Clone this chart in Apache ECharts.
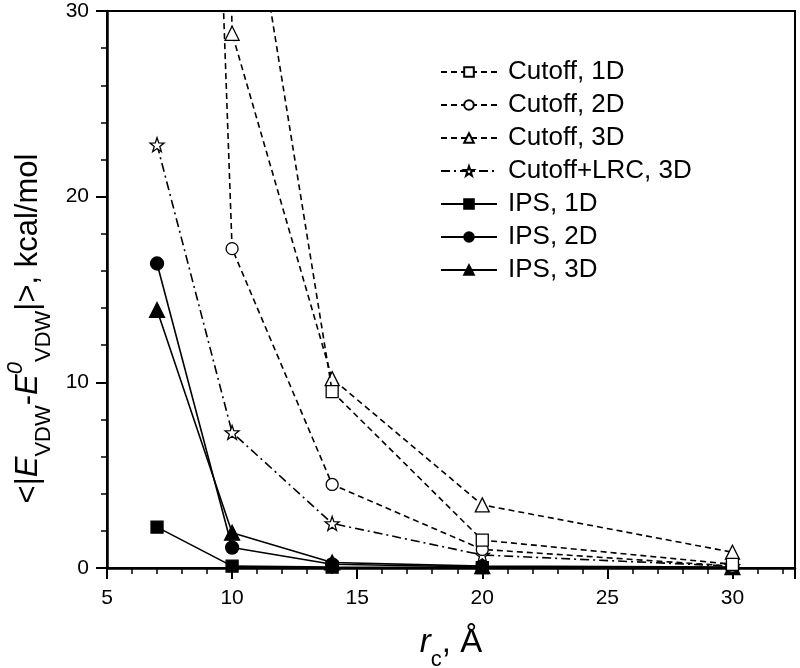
<!DOCTYPE html>
<html>
<head>
<meta charset="utf-8">
<script src="https://cdn.jsdelivr.net/npm/echarts@6/dist/echarts.min.js"></script>
<style>
html,body{margin:0;padding:0;background:#fff;}
#chart{width:800px;height:668px;}
</style>
</head>
<body>
<div id="chart"></div>
<script>
// ---- data ----
var rc = [7, 10, 14, 20, 30];
var cutoff1D = [null, 43, 9.5, 1.5, 0.2];
var cutoff2D = [130, 17.2, 4.5, 1.0, 0.1];
var cutoff3D = [250, 28.8, 10.2, 3.4, 0.85];
var cutoffLRC3D = [22.8, 7.3, 2.4, 0.7, 0.1];
var ips1D = [2.2, 0.1, 0.05, 0.02, 0.01];
var ips2D = [16.4, 1.1, 0.2, 0.05, 0.02];
var ips3D = [13.9, 1.9, 0.3, 0.1, 0.05];
var seriesNames = ['Cutoff, 1D', 'Cutoff, 2D', 'Cutoff, 3D', 'Cutoff+LRC, 3D', 'IPS, 1D', 'IPS, 2D', 'IPS, 3D'];
var xTicks = [5, 10, 15, 20, 25, 30];
var yTicks = [0, 10, 20, 30];

var FONT = '"Liberation Sans", Arial, sans-serif';
var STAR = 'path://M0,-10 L2.35,-3.24 9.51,-3.09 3.8,1.24 5.88,8.09 0,4 -5.88,8.09 -3.8,1.24 -9.51,-3.09 -2.35,-3.24Z';

function pairs(ys) {
  var out = [];
  for (var i = 0; i < rc.length; i++) {
    if (ys[i] !== null) out.push([rc[i], ys[i]]);
  }
  return out;
}

var styles = [
  {data: cutoff1D, symbol: 'rect', size: 12, filled: false, dash: [6, 4]},
  {data: cutoff2D, symbol: 'circle', size: 12, filled: false, dash: [6, 4]},
  {data: cutoff3D, symbol: 'triangle', size: 14, filled: false, dash: [6, 4]},
  {data: cutoffLRC3D, symbol: STAR, size: 14, filled: false, dash: [9, 4, 2, 4]},
  {data: ips1D, symbol: 'rect', size: 12, filled: true, dash: 'solid'},
  {data: ips2D, symbol: 'circle', size: 13, filled: true, dash: 'solid'},
  {data: ips3D, symbol: 'triangle', size: 15, filled: true, dash: 'solid'}
];

var series = styles.map(function (s, i) {
  return {
    name: seriesNames[i],
    type: 'line',
    data: pairs(s.data),
    clip: true,
    symbol: s.symbol,
    symbolSize: s.size,
    showAllSymbol: true,
    lineStyle: {color: '#000', width: 1.6, type: s.dash},
    itemStyle: {color: s.filled ? '#000' : '#fff', borderColor: '#000', borderWidth: 1.3, opacity: 1},
    emphasis: {disabled: true},
    z: 10 - i
  };
});

var chart = echarts.init(document.getElementById('chart'), null, {renderer: 'canvas'});
chart.setOption({
  animation: false,
  backgroundColor: '#fff',
  grid: {left: 107, top: 11, right: 5, bottom: 100, containLabel: false, outerBoundsMode: 'none',
    show: true, borderColor: '#000', borderWidth: 2, backgroundColor: 'transparent'},
  legend: {
    orient: 'vertical',
    left: 435,
    top: 54,
    itemWidth: 56,
    itemHeight: 12,
    itemGap: 7,
    data: seriesNames,
    textStyle: {fontFamily: FONT, fontSize: 26, lineHeight: 26, color: '#000', padding: [0, 0, 0, 6]},
    selectedMode: false
  },
  xAxis: {
    type: 'value',
    min: 5, max: 32.5, interval: 5,
    axisLine: {show: true, lineStyle: {color: '#000', width: 2.5}},
    axisTick: {show: true, inside: false, length: 11, lineStyle: {color: '#000', width: 2}},
    minorTick: {show: true, splitNumber: 5, length: 6, lineStyle: {color: '#000', width: 1.5}},
    splitLine: {show: false},
    axisLabel: {fontFamily: FONT, fontSize: 21, color: '#000', margin: 20,
      formatter: function (v) { return xTicks.indexOf(v) >= 0 ? String(v) : ''; }},
    name: '{it|r}{sub|c}{n|, Å}',
    nameLocation: 'middle',
    nameGap: 53,
    nameTextStyle: {
      fontFamily: FONT, color: '#000',
      rich: {
        it: {fontFamily: FONT, fontSize: 33, fontStyle: 'italic', color: '#000', lineHeight: 44, verticalAlign: 'middle'},
        sub: {fontFamily: FONT, fontSize: 22, color: '#000', lineHeight: 44, verticalAlign: 'bottom', padding: [0, 0, -6, 0]},
        n: {fontFamily: FONT, fontSize: 33, color: '#000', lineHeight: 44, verticalAlign: 'middle'}
      }
    }
  },
  yAxis: {
    type: 'value',
    min: 0, max: 30, interval: 10,
    axisLine: {show: true, lineStyle: {color: '#000', width: 2.5}},
    axisTick: {show: true, inside: false, length: 11, lineStyle: {color: '#000', width: 2}},
    minorTick: {show: true, splitNumber: 5, length: 6, lineStyle: {color: '#000', width: 1.5}},
    splitLine: {show: false},
    axisLabel: {fontFamily: FONT, fontSize: 21, color: '#000', margin: 18,
      formatter: function (v) { return yTicks.indexOf(v) >= 0 ? String(v) : ''; }},
    name: '{n|<|}{it|E}{sub|VDW}{n|-}{it|E}{sup|0}{sub|VDW}{n||>, kcal/mol}',
    nameLocation: 'middle',
    nameGap: 32,
    nameRotate: 90,
    nameTextStyle: {
      fontFamily: FONT, color: '#000',
      padding: [0, 78, 0, 0],
      rich: {
        n: {fontFamily: FONT, fontSize: 31, color: '#000', lineHeight: 44, verticalAlign: 'middle'},
        it: {fontFamily: FONT, fontSize: 31, fontStyle: 'italic', color: '#000', lineHeight: 44, verticalAlign: 'middle'},
        sub: {fontFamily: FONT, fontSize: 22, color: '#000', lineHeight: 44, verticalAlign: 'bottom', padding: [0, 0, -4, 0]},
        sup: {fontFamily: FONT, fontSize: 22, fontStyle: 'italic', color: '#000', lineHeight: 44, verticalAlign: 'top', padding: [-2, 0, 0, 0]}
      }
    }
  },
  series: series
});
</script>
</body>
</html>
